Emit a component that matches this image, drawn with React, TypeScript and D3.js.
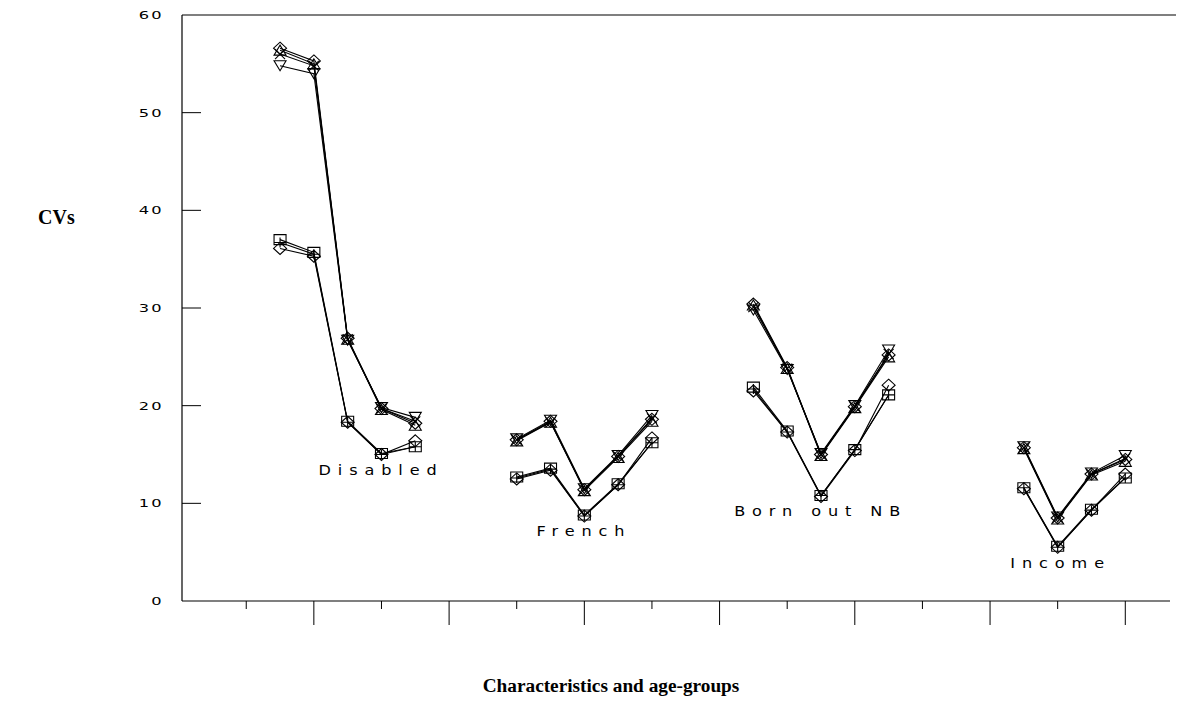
import React from "react";
import * as d3 from "d3";

// groups of characteristics, each with its age-group positions on the x axis
const groups = ["Disabled", "French", "Born out NB", "Income"];
const groupX = [
  [1.5, 2, 2.5, 3, 3.5],
  [5, 5.5, 6, 6.5, 7],
  [8.5, 9, 9.5, 10, 10.5],
  [12.5, 13, 13.5, 14],
];
const labelX = [2.95, 5.95, 9.45, 13.0];
const labelY = [13.4, 7.2, 9.2, 3.9];

// upper family of curves
const upDiamond = [
  [56.6, 55.3, 26.9, 19.7, 18.2],
  [16.5, 18.4, 11.4, 14.8, 18.6],
  [30.4, 23.9, 15.0, 19.9, 25.2],
  [15.7, 8.5, 13.0, 14.5],
];
const upTriUp = [
  [56.4, 55.0, 26.8, 19.6, 18.0],
  [16.4, 18.3, 11.3, 14.7, 18.4],
  [30.3, 23.8, 14.9, 19.8, 25.0],
  [15.6, 8.4, 12.9, 14.3],
];
const upCross = [
  [56.0, 54.8, 26.8, 19.7, 18.4],
  [16.5, 18.3, 11.4, 14.8, 18.7],
  [30.1, 23.8, 15.0, 19.9, 25.3],
  [15.7, 8.5, 13.0, 14.6],
];
const upTriDown = [
  [54.8, 54.0, 26.7, 19.8, 18.8],
  [16.6, 18.5, 11.5, 14.9, 19.0],
  [29.8, 23.7, 15.1, 20.0, 25.7],
  [15.8, 8.6, 13.1, 14.9],
];
// lower family of curves
const lowSquare = [
  [37.0, 35.7, 18.4, 15.1, 15.8],
  [12.7, 13.6, 8.8, 12.0, 16.2],
  [21.9, 17.4, 10.8, 15.5, 21.1],
  [11.6, 5.6, 9.4, 12.6],
];
const lowPlus = [
  [36.7, 35.5, 18.3, 15.0, 15.8],
  [12.6, 13.5, 8.7, 11.9, 16.2],
  [21.7, 17.3, 10.8, 15.5, 21.1],
  [11.6, 5.5, 9.3, 12.6],
];
const lowDiamond = [
  [36.1, 35.3, 18.3, 15.0, 16.4],
  [12.5, 13.4, 8.7, 11.9, 16.7],
  [21.5, 17.3, 10.7, 15.4, 22.1],
  [11.5, 5.5, 9.3, 13.0],
];

const yTicks = [0, 10, 20, 30, 40, 50, 60];
const xTicks = d3.range(1, 15);

const series = [
  { values: upDiamond, marker: "diamond" },
  { values: upTriUp, marker: "triUp" },
  { values: upCross, marker: "cross" },
  { values: upTriDown, marker: "triDown" },
  { values: lowSquare, marker: "square" },
  { values: lowPlus, marker: "plus" },
  { values: lowDiamond, marker: "diamond" },
];

function markerPath(type: string, cx: number, cy: number) {
  const p = d3.path();
  if (type === "diamond") {
    p.moveTo(cx, cy - 6);
    p.lineTo(cx + 6.5, cy);
    p.lineTo(cx, cy + 6);
    p.lineTo(cx - 6.5, cy);
    p.closePath();
  } else if (type === "square") {
    p.rect(cx - 6, cy - 5, 12, 10);
  } else if (type === "triUp") {
    p.moveTo(cx - 6, cy + 5);
    p.lineTo(cx + 6, cy + 5);
    p.lineTo(cx, cy - 5);
    p.closePath();
  } else if (type === "triDown") {
    p.moveTo(cx - 6, cy - 5);
    p.lineTo(cx + 6, cy - 5);
    p.lineTo(cx, cy + 5);
    p.closePath();
  } else if (type === "cross") {
    p.moveTo(cx - 5, cy - 5);
    p.lineTo(cx + 5, cy + 5);
    p.moveTo(cx + 5, cy - 5);
    p.lineTo(cx - 5, cy + 5);
  } else {
    p.moveTo(cx - 6, cy);
    p.lineTo(cx + 6, cy);
    p.moveTo(cx, cy - 5);
    p.lineTo(cx, cy + 5);
  }
  return p.toString();
}

export default function App() {
  const width = 1182;
  const height = 702;
  const margin = { top: 15, left: 182, bottom: 601, right: 1176 };

  const x = d3.scaleLinear().domain([0.05, 14.75]).range([margin.left, margin.right]);
  const y = d3.scaleLinear().domain([0, 60]).range([margin.bottom, margin.top]);

  const line = d3
    .line<[number, number]>()
    .x((d) => x(d[0]))
    .y((d) => y(d[1]));

  // plotter-style lettering: a light sans stretched sideways
  const tickFont = "DejaVu Sans, sans-serif";

  return (
    <svg
      width={width}
      height={height}
      style={{ position: "absolute", left: 0, top: 0, background: "#fff" }}
    >
      {/* frame */}
      <g stroke="#000" strokeWidth={1.2} fill="none">
        <line x1={margin.left} x2={margin.right} y1={margin.top} y2={margin.top} />
        <line x1={margin.left} x2={margin.left} y1={margin.top} y2={margin.bottom} />
        <line x1={margin.left} x2={margin.right - 6} y1={margin.bottom} y2={margin.bottom} />
      </g>

      {/* y ticks */}
      {yTicks.map((t) => (
        <g key={"y" + t}>
          {t > 0 && t < 60 && (
            <line
              x1={margin.left}
              x2={margin.left + 19}
              y1={y(t)}
              y2={y(t)}
              stroke="#000"
              strokeWidth={1}
            />
          )}
          <text
            transform={`translate(164,${y(t)}) scale(1.55,1)`}
            dy="0.38em"
            textAnchor="end"
            fontFamily={tickFont}
            fontSize={10.5}
            letterSpacing={1.5}
          >
            {t}
          </text>
        </g>
      ))}

      {/* x ticks */}
      {xTicks.map((t) => (
        <line
          key={"x" + t}
          x1={x(t)}
          x2={x(t)}
          y1={margin.bottom}
          y2={margin.bottom + (t % 2 === 0 ? 24 : 8)}
          stroke="#000"
          strokeWidth={1}
        />
      ))}

      {/* curves */}
      {series.map((s, si) =>
        s.values.map((vals, gi) => {
          const pts = vals.map((v, i) => [groupX[gi][i], v] as [number, number]);
          return (
            <g key={`s${si}g${gi}`}>
              <path d={line(pts) || ""} fill="none" stroke="#000" strokeWidth={1.1} />
              {pts.map((p, i) => (
                <path
                  key={i}
                  d={markerPath(s.marker, x(p[0]), y(p[1]))}
                  fill="none"
                  stroke="#000"
                  strokeWidth={1.1}
                />
              ))}
            </g>
          );
        })
      )}

      {/* group labels */}
      {groups.map((g, i) => (
        <text
          key={g}
          transform={`translate(${x(labelX[i]) + 3},${y(labelY[i])}) scale(1.15,1)`}
          dy="0.35em"
          textAnchor="middle"
          fontFamily={tickFont}
          fontSize={14}
          letterSpacing={6}
        >
          {g}
        </text>
      ))}

      {/* axis titles */}
      <text x={38} y={224} fontFamily="Liberation Serif, serif" fontSize={20} fontWeight={600}>
        CVs
      </text>
      <text
        x={611}
        y={692}
        textAnchor="middle"
        fontFamily="Liberation Serif, serif"
        fontSize={19.3}
        fontWeight={600}
      >
        Characteristics and age-groups
      </text>
    </svg>
  );
}
